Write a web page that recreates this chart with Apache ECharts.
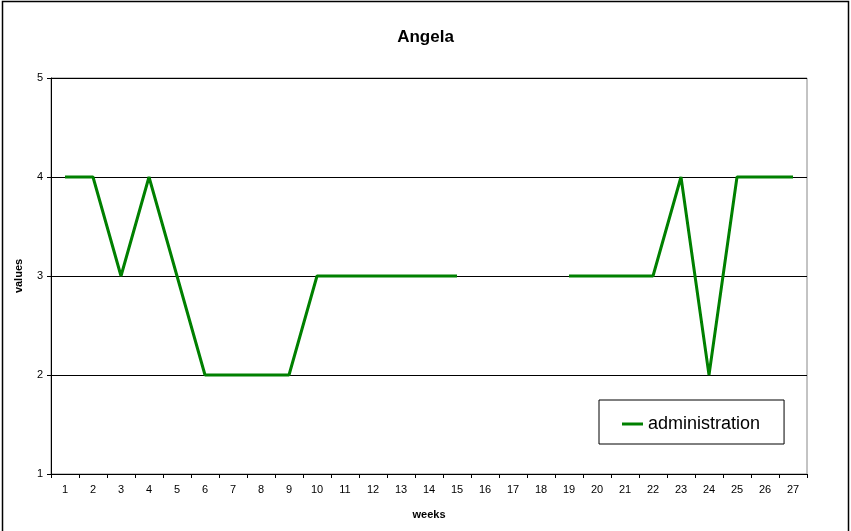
<!DOCTYPE html>
<html><head><meta charset="utf-8">
<script src="https://cdn.jsdelivr.net/npm/echarts@6/dist/echarts.min.js"></script>
<style>html,body{margin:0;padding:0;background:#fff}#c{width:851px;height:531px}</style>
</head><body><div id="c"></div>
<script>
const weeks = ['1','2','3','4','5','6','7','8','9','10','11','12','13','14','15','16','17','18','19','20','21','22','23','24','25','26','27'];
const administration = [4,4,3,4,3,2,2,2,2,3,3,3,3,3,3,null,null,null,3,3,3,3,4,2,4,4,4];
const yTicks = [1,2,3,4,5];

const chart = echarts.init(document.getElementById('c'));
const font = 'Liberation Sans, Arial, sans-serif';
chart.setOption({
  animation:false,
  title:{text:'Angela',left:'center',top:24,textStyle:{fontFamily:font,fontSize:17,fontWeight:'bold',color:'#000'}},
  grid:{left:51,right:44,top:78,bottom:57,show:true,borderColor:'#888',borderWidth:1,backgroundColor:'transparent'},
  legend:{data:['administration'],left:599,top:400,padding:[15,24,11,23],
    orient:'horizontal',borderColor:'#000',borderWidth:1,itemWidth:21,itemHeight:3,itemGap:5,
    icon:'rect',textStyle:{fontFamily:font,fontSize:18,color:'#000',padding:[0,0,0,0]}},
  xAxis:{type:'category',data:weeks,boundaryGap:true,name:'weeks',nameLocation:'middle',nameGap:35,
    nameTextStyle:{fontFamily:font,fontSize:11,fontWeight:'bold',color:'#000'},
    axisLine:{lineStyle:{color:'#000',width:1}},axisTick:{show:true,length:4,lineStyle:{color:'#000'},alignWithLabel:false},
    axisLabel:{fontFamily:font,fontSize:11,color:'#000',margin:10,interval:0},splitLine:{show:false}},
  yAxis:{type:'value',min:1,max:5,interval:1,name:'values',nameLocation:'middle',nameGap:27,
    nameTextStyle:{fontFamily:font,fontSize:11,fontWeight:'bold',color:'#000'},
    axisLine:{show:true,lineStyle:{color:'#000',width:1}},axisTick:{show:true,length:4,lineStyle:{color:'#000'}},
    axisLabel:{fontFamily:font,fontSize:11,color:'#000',margin:8,formatter:v=>yTicks.includes(v)?String(v):''},
    splitLine:{show:true,lineStyle:{color:'#000',width:1}}},
  series:[{name:'administration',type:'line',data:administration,connectNulls:false,showSymbol:false,symbol:'none',
    lineStyle:{color:'#008000',width:3},itemStyle:{color:'#008000'}}],
  graphic:[{type:'rect',shape:{x:2.5,y:1.5,width:846,height:540},style:{fill:'none',stroke:'#000',lineWidth:1.5},silent:true}]
});
</script></body></html>
